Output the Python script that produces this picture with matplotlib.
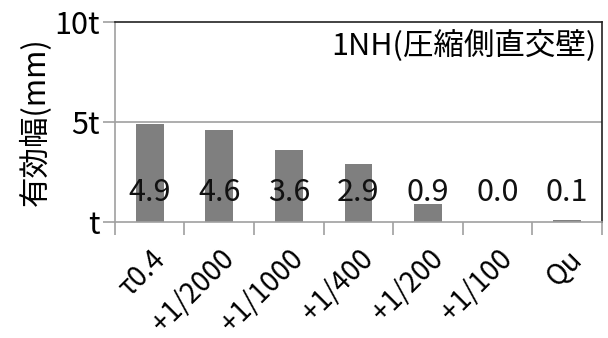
import matplotlib
matplotlib.use("Agg")
import matplotlib.pyplot as plt

plt.rcParams['font.family'] = ['Noto Sans CJK JP', 'DejaVu Sans']

categories = ["τ0.4", "+1/2000", "+1/1000", "+1/400", "+1/200", "+1/100", "Qu"]
values = [4.9, 4.6, 3.6, 2.9, 0.9, 0.0, 0.1]
ytick_pos = [0, 5, 10]
ytick_labels = ["t", "5t", "10t"]
title = "1NH(圧縮側直交壁)"

fig = plt.figure(figsize=(6.08, 3.38), dpi=100)
ax = fig.add_axes([0.189, 0.343, 0.801, 0.592])

x = range(len(categories))
ax.bar(x, values, width=0.4, color="#7f7f7f", zorder=2)
for i, v in enumerate(values):
    ax.text(i, 1.5, f"{v:.1f}", ha="center", va="center", fontsize=22, color="#111111", zorder=3)

ax.set_xlim(-0.5, len(categories) - 0.5)
ax.set_ylim(0, 10)
ax.set_yticks(ytick_pos)
ax.set_yticklabels(ytick_labels, fontsize=22)
ax.axhline(5, color="#a0a0a0", lw=1.2, zorder=1)

ax.set_xticks(list(x))
ax.set_xticklabels(categories, fontsize=20, rotation=45, ha="right", rotation_mode="anchor")
ax.set_xticks([i - 0.5 for i in range(len(categories) + 1)], minor=True)
ax.tick_params(axis="x", which="major", length=0, pad=16)
ax.tick_params(axis="x", which="minor", length=9, color="#a0a0a0", width=1.2)
ax.tick_params(axis="y", length=9, color="#a0a0a0", width=1.2, pad=2)

for s in ["left", "bottom"]:
    ax.spines[s].set_color("#a0a0a0")
    ax.spines[s].set_linewidth(1.2)
for s in ["top", "right"]:
    ax.spines[s].set_color("#222222")
    ax.spines[s].set_linewidth(1.2)

ax.set_ylabel("有効幅(mm)", fontsize=22, labelpad=2)
ax.text(0.445, 0.885, title, transform=ax.transAxes, fontsize=22, ha="left", va="center")

fig.savefig("out.png", dpi=100)
